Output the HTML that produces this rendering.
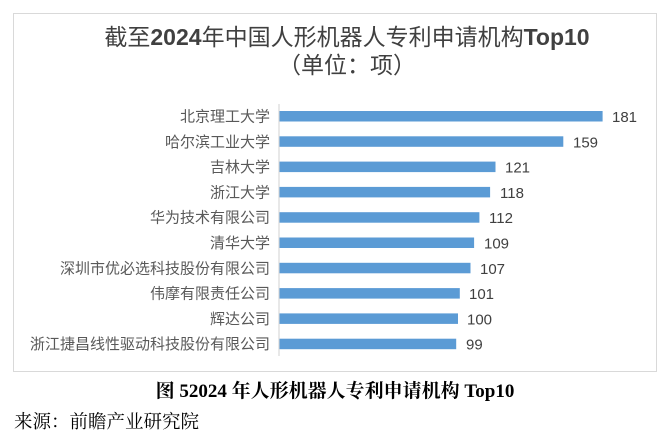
<!DOCTYPE html>
<html><head><meta charset="utf-8"><style>
body{margin:0;width:669px;height:444px;background:#fff;overflow:hidden}
</style></head><body>
<svg width="669" height="444" xmlns="http://www.w3.org/2000/svg" style="position:absolute;left:0;top:0">
<rect x="13.5" y="13.5" width="643" height="358" fill="#fff" stroke="#d9d9d9"/>
<text x="347" y="45" text-anchor="middle" font-size="23" fill="#404040" font-family="Liberation Sans,Noto Sans CJK SC,sans-serif">截至<tspan font-weight="bold">2024</tspan>年中国人形机器人专利申请机构<tspan font-weight="bold">Top10</tspan></text>
<text x="347" y="73" text-anchor="middle" font-size="23" fill="#404040" font-family="Liberation Sans,Noto Sans CJK SC,sans-serif">（单位：项）</text>
<line x1="279" y1="104" x2="279" y2="356" stroke="#d9d9d9" stroke-width="1.2"/>
<g fill="#5b9bd5">
<rect x="279.5" y="111" width="323.1" height="10.5"/>
<rect x="279.5" y="136.3" width="283.8" height="10.5"/>
<rect x="279.5" y="161.6" width="216" height="10.5"/>
<rect x="279.5" y="186.9" width="210.6" height="10.5"/>
<rect x="279.5" y="212.2" width="199.9" height="10.5"/>
<rect x="279.5" y="237.5" width="194.6" height="10.5"/>
<rect x="279.5" y="262.8" width="191" height="10.5"/>
<rect x="279.5" y="288.1" width="180.3" height="10.5"/>
<rect x="279.5" y="313.4" width="178.5" height="10.5"/>
<rect x="279.5" y="338.7" width="176.7" height="10.5"/>
</g>
<g font-size="15" fill="#595959" text-anchor="end" font-family="Liberation Sans,Noto Sans CJK SC,sans-serif">
<text x="270" y="121.5">北京理工大学</text>
<text x="270" y="146.8">哈尔滨工业大学</text>
<text x="270" y="172.1">吉林大学</text>
<text x="270" y="197.4">浙江大学</text>
<text x="270" y="222.7">华为技术有限公司</text>
<text x="270" y="248">清华大学</text>
<text x="270" y="273.3">深圳市优必选科技股份有限公司</text>
<text x="270" y="298.6">伟摩有限责任公司</text>
<text x="270" y="323.9">辉达公司</text>
<text x="270" y="349.2">浙江捷昌线性驱动科技股份有限公司</text>
</g>
<g font-size="15" fill="#404040" font-family="Liberation Sans,sans-serif">
<text x="612" y="122">181</text>
<text x="573" y="147.3">159</text>
<text x="505" y="172.6">121</text>
<text x="500" y="197.9">118</text>
<text x="489" y="223.2">112</text>
<text x="484" y="248.5">109</text>
<text x="480" y="273.8">107</text>
<text x="469" y="299.1">101</text>
<text x="467" y="324.4">100</text>
<text x="466" y="349.7">99</text>
</g>
<text x="335" y="397" text-anchor="middle" font-size="19" font-weight="bold" fill="#000" font-family="Liberation Serif,Noto Serif CJK SC,serif">图 52024 年人形机器人专利申请机构 Top10</text>
<text x="14" y="428" font-size="18.5" fill="#000" font-family="Liberation Serif,Noto Serif CJK SC,serif">来源：前瞻产业研究院</text>
</svg>
</body></html>
